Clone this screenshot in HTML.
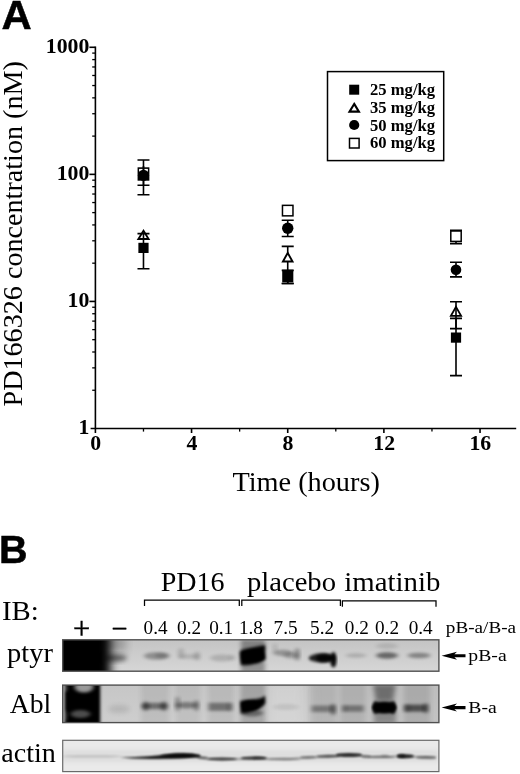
<!DOCTYPE html>
<html><head><meta charset="utf-8"><title>Figure</title>
<style>
html,body{margin:0;padding:0;background:#fff;}
body{width:520px;height:774px;overflow:hidden;}
svg{display:block;}
.s{font-family:"Liberation Serif",serif;fill:#000;}
.b{font-family:"Liberation Serif",serif;font-weight:bold;fill:#000;}
.h{font-family:"Liberation Sans",sans-serif;font-weight:bold;fill:#000;}
</style></head><body>
<svg width="520" height="774" viewBox="0 0 520 774">
<rect width="520" height="774" fill="#fff"/>

<text class="h" transform="translate(1.4 29.2) scale(1.03 1)" font-size="40.6" stroke="#000" stroke-width="0.5">A</text>
<text class="h" transform="translate(-0.9 562.8) scale(1.03 1)" font-size="38.4" stroke="#000" stroke-width="0.5">B</text>
<g stroke="#000" stroke-width="1.6" fill="none">
<path d="M95.4 46.5V428.5"/>
<path d="M90.6 428.5H516.2"/>
<path d="M92.2 390.25H95.4" stroke-width="1.3"/>
<path d="M92.2 367.87H95.4" stroke-width="1.3"/>
<path d="M92.2 352.00H95.4" stroke-width="1.3"/>
<path d="M92.2 339.68H95.4" stroke-width="1.3"/>
<path d="M92.2 329.62H95.4" stroke-width="1.3"/>
<path d="M92.2 321.11H95.4" stroke-width="1.3"/>
<path d="M92.2 313.74H95.4" stroke-width="1.3"/>
<path d="M92.2 307.24H95.4" stroke-width="1.3"/>
<path d="M89.4 301.43H95.4"/>
<path d="M92.2 263.18H95.4" stroke-width="1.3"/>
<path d="M92.2 240.80H95.4" stroke-width="1.3"/>
<path d="M92.2 224.93H95.4" stroke-width="1.3"/>
<path d="M92.2 212.61H95.4" stroke-width="1.3"/>
<path d="M92.2 202.55H95.4" stroke-width="1.3"/>
<path d="M92.2 194.04H95.4" stroke-width="1.3"/>
<path d="M92.2 186.67H95.4" stroke-width="1.3"/>
<path d="M92.2 180.17H95.4" stroke-width="1.3"/>
<path d="M89.4 174.36H95.4"/>
<path d="M92.2 136.11H95.4" stroke-width="1.3"/>
<path d="M92.2 113.73H95.4" stroke-width="1.3"/>
<path d="M92.2 97.86H95.4" stroke-width="1.3"/>
<path d="M92.2 85.54H95.4" stroke-width="1.3"/>
<path d="M92.2 75.48H95.4" stroke-width="1.3"/>
<path d="M92.2 66.97H95.4" stroke-width="1.3"/>
<path d="M92.2 59.60H95.4" stroke-width="1.3"/>
<path d="M92.2 53.10H95.4" stroke-width="1.3"/>
<path d="M89.4 47.29H95.4"/>
<path d="M95.40 428.5V433"/>
<path d="M143.48 428.5V431.6" stroke-width="1.3"/>
<path d="M191.56 428.5V433"/>
<path d="M239.64 428.5V431.6" stroke-width="1.3"/>
<path d="M287.72 428.5V433"/>
<path d="M335.80 428.5V431.6" stroke-width="1.3"/>
<path d="M383.88 428.5V433"/>
<path d="M431.96 428.5V431.6" stroke-width="1.3"/>
<path d="M480.04 428.5V433"/>
</g>
<text class="b" transform="translate(89.4 52.59) scale(1.09 1)" font-size="20" text-anchor="end">1000</text>
<text class="b" transform="translate(89.4 179.66) scale(1.09 1)" font-size="20" text-anchor="end">100</text>
<text class="b" transform="translate(89.4 306.73) scale(1.09 1)" font-size="20" text-anchor="end">10</text>
<text class="b" transform="translate(89.4 433.80) scale(1.09 1)" font-size="20" text-anchor="end">1</text>
<text class="b" transform="translate(95.70 450.1) scale(1.09 1)" font-size="20" text-anchor="middle">0</text>
<text class="b" transform="translate(191.86 450.1) scale(1.09 1)" font-size="20" text-anchor="middle">4</text>
<text class="b" transform="translate(288.02 450.1) scale(1.09 1)" font-size="20" text-anchor="middle">8</text>
<text class="b" transform="translate(384.18 450.1) scale(1.09 1)" font-size="20" text-anchor="middle">12</text>
<text class="b" transform="translate(480.34 450.1) scale(1.09 1)" font-size="20" text-anchor="middle">16</text>
<text class="s" transform="translate(306.1 490.8) scale(1.025 1)" font-size="27.6" text-anchor="middle">Time (hours)</text>
<text class="s" transform="translate(22.0 233.8) rotate(-90) scale(1.009 1)" font-size="27.9" text-anchor="middle">PD166326 concentration (nM)</text>
<rect x="327.5" y="71.6" width="116.2" height="89" fill="#fff" stroke="#000" stroke-width="1.5"/>
<rect x="349.20" y="84.70" width="10" height="10" fill="#000"/>
<path d="M354.20 103.90L358.90 111.60H349.50Z" fill="#fff" stroke="#000" stroke-width="2.1" stroke-linejoin="miter"/>
<circle cx="354.20" cy="125.00" r="5.1" fill="#000"/>
<rect x="349.50" y="138.40" width="9.6" height="9.6" fill="#fff" stroke="#000" stroke-width="1.5"/>
<text class="b" transform="translate(370 95.20) scale(1.02 1)" font-size="16.3">25 mg/kg</text>
<text class="b" transform="translate(370 112.95) scale(1.02 1)" font-size="16.3">35 mg/kg</text>
<text class="b" transform="translate(370 130.70) scale(1.02 1)" font-size="16.3">50 mg/kg</text>
<text class="b" transform="translate(370 148.45) scale(1.02 1)" font-size="16.3">60 mg/kg</text>
<rect x="137.58" y="167.30" width="11.80" height="13.40" fill="#000"/>
<rect x="139.08" y="168.90" width="8.80" height="4.30" fill="#fff"/>
<circle cx="143.48" cy="175.30" r="5.6" fill="#000"/>
<path d="M143.48 160.00V194.80M137.48 160.00H149.48M137.48 194.80H149.48" stroke="#000" stroke-width="1.6" fill="none"/>
<path d="M143.48 166.00V185.20M137.48 185.20H149.48" stroke="#000" stroke-width="1.6" fill="none"/>
<path d="M143.48 233.60V268.70M137.48 233.60H149.48M137.48 268.70H149.48" stroke="#000" stroke-width="1.6" fill="none"/>
<path d="M143.48 230.70L148.58 239.00H138.38Z" fill="none" stroke="#000" stroke-width="1.9" stroke-linejoin="miter"/>
<rect x="138.38" y="242.80" width="10.2" height="10.2" fill="#000"/>
<rect x="282.47" y="205.35" width="10.5" height="10.5" fill="#fff" stroke="#000" stroke-width="1.5"/>
<path d="M287.72 220.30V236.50M281.72 220.30H293.72M281.72 236.50H293.72" stroke="#000" stroke-width="1.6" fill="none"/>
<circle cx="287.72" cy="228.30" r="5.7" fill="#000"/>
<path d="M287.72 246.40V283.50M281.72 246.40H293.72M281.72 283.50H293.72" stroke="#000" stroke-width="1.6" fill="none"/>
<path d="M287.72 252.90L292.52 261.50H282.92Z" fill="#fff" stroke="#000" stroke-width="1.9" stroke-linejoin="miter"/>
<rect x="282.22" y="269.80" width="11.10" height="12.50" fill="#000"/>
<path d="M287.72 270.40V283.50M281.72 270.40H293.72M281.72 283.50H293.72" stroke="#000" stroke-width="1.6" fill="none"/>
<path d="M456.00 230.20V243.60M450.00 230.20H462.00M450.00 243.60H462.00" stroke="#000" stroke-width="1.6" fill="none"/>
<rect x="450.80" y="231.00" width="10.4" height="10.4" fill="#fff" stroke="#000" stroke-width="1.5"/>
<path d="M456.00 262.30V276.90M450.00 262.30H462.00M450.00 276.90H462.00" stroke="#000" stroke-width="1.6" fill="none"/>
<circle cx="456.00" cy="269.70" r="5.3" fill="#000"/>
<path d="M456.00 301.80V328.60M450.00 301.80H462.00M450.00 328.60H462.00" stroke="#000" stroke-width="1.6" fill="none"/>
<path d="M456.00 306.90L461.10 315.90H450.90Z" fill="none" stroke="#000" stroke-width="1.8" stroke-linejoin="miter"/>
<path d="M456.00 318.40V375.60M450.00 318.40H462.00M450.00 375.60H462.00" stroke="#000" stroke-width="1.6" fill="none"/>
<rect x="450.90" y="332.50" width="10.2" height="10.2" fill="#000"/>
<defs>
<filter id="f1" x="-20%" y="-50%" width="140%" height="200%"><feGaussianBlur stdDeviation="1.6"/></filter>
<filter id="f2" x="-20%" y="-50%" width="140%" height="200%"><feGaussianBlur stdDeviation="2.6"/></filter>
<filter id="f3" x="-20%" y="-80%" width="140%" height="260%"><feGaussianBlur stdDeviation="1.0"/></filter>
<filter id="f5" x="-30%" y="-30%" width="160%" height="160%"><feGaussianBlur stdDeviation="5 0.01"/></filter>
<filter id="f6" x="-40%" y="-100%" width="180%" height="300%"><feGaussianBlur stdDeviation="2.0 1.7"/></filter>
<filter id="f4" x="-30%" y="-50%" width="160%" height="200%"><feGaussianBlur stdDeviation="4"/></filter>
<clipPath id="c1"><rect x="62.7" y="639.8" width="376.2" height="31.4"/></clipPath>
<clipPath id="c2"><rect x="62.7" y="685.1" width="376.2" height="37.5"/></clipPath>
<clipPath id="c3"><rect x="62.7" y="740.3" width="376.2" height="31.3"/></clipPath>
<linearGradient id="g1" x1="0" y1="0" x2="0" y2="1"><stop offset="0" stop-color="#c4c4c4"/><stop offset="1" stop-color="#d6d6d6"/></linearGradient>
<linearGradient id="g2" x1="0" y1="0" x2="0" y2="1"><stop offset="0" stop-color="#c6c6c6"/><stop offset="1" stop-color="#cecece"/></linearGradient>
</defs>
<g clip-path="url(#c1)">
<rect x="62.7" y="639.8" width="376.2" height="31.4" fill="url(#g1)"/>
<rect x="104" y="636" width="22" height="16" fill="#000" opacity="0.22" filter="url(#f4)"/>
<rect x="30" y="630" width="80.5" height="50" fill="#000" opacity="1" filter="url(#f5)"/>
<ellipse cx="115" cy="658" rx="12" ry="3.4" fill="#000" opacity="0.55" filter="url(#f2)"/>
<ellipse cx="156.5" cy="656" rx="12.5" ry="3.8" fill="#000" opacity="0.3" filter="url(#f6)"/>
<ellipse cx="162" cy="655.5" rx="7" ry="2.8" fill="#000" opacity="0.17" filter="url(#f6)"/>
<ellipse cx="181" cy="653.5" rx="3" ry="5.5" fill="#000" opacity="0.16" filter="url(#f6)"/>
<ellipse cx="189" cy="656.5" rx="10" ry="2.6" fill="#000" opacity="0.13" filter="url(#f6)"/>
<ellipse cx="197" cy="656" rx="3" ry="4.5" fill="#000" opacity="0.18" filter="url(#f6)"/>
<ellipse cx="222" cy="658" rx="12" ry="3.4" fill="#000" opacity="0.15" filter="url(#f6)"/>
<ellipse cx="232" cy="657.5" rx="3" ry="3" fill="#000" opacity="0.08" filter="url(#f6)"/>
<rect x="241" y="640" width="24" height="10" fill="#000" opacity="0.34" filter="url(#f6)"/>
<rect x="241" y="662" width="24" height="10" fill="#000" opacity="0.32" filter="url(#f6)"/>
<path d="M239.6 652 Q240 650 244 649 L265 645 L265.8 659.5 Q262 662.5 254 664 Q246 666 241 665 Q239.4 660 239.6 652Z" fill="#000" filter="url(#f1)"/>
<ellipse cx="253" cy="656" rx="10.5" ry="6" fill="#000" opacity="1" filter="url(#f1)"/>
<ellipse cx="275" cy="648" rx="1.8" ry="4.5" fill="#000" opacity="0.14" filter="url(#f6)"/>
<ellipse cx="283" cy="652.8" rx="10" ry="3" fill="#000" opacity="0.28" filter="url(#f6)"/>
<ellipse cx="291" cy="655.5" rx="7.5" ry="3" fill="#000" opacity="0.24" filter="url(#f6)"/>
<ellipse cx="297.2" cy="654.4" rx="2.4" ry="6.4" fill="#000" opacity="0.38" filter="url(#f6)"/>
<ellipse cx="321.2" cy="658" rx="12.5" ry="4.4" fill="#000" opacity="0.85" filter="url(#f1)"/>
<ellipse cx="325.2" cy="658" rx="9" ry="4.2" fill="#000" opacity="0.8" filter="url(#f1)"/>
<ellipse cx="333.4" cy="659.8" rx="3.2" ry="7.8" fill="#000" opacity="0.95" filter="url(#f1)"/>
<ellipse cx="356" cy="655.5" rx="10.5" ry="2.2" fill="#000" opacity="0.16" filter="url(#f6)"/>
<ellipse cx="387" cy="646" rx="11" ry="3" fill="#000" opacity="0.1" filter="url(#f6)"/>
<ellipse cx="387" cy="655.5" rx="11" ry="3.2" fill="#000" opacity="0.5" filter="url(#f6)"/>
<ellipse cx="419" cy="655.5" rx="11.5" ry="2.8" fill="#000" opacity="0.36" filter="url(#f6)"/>
</g>
<rect x="62.7" y="639.8" width="376.2" height="31.4" fill="none" stroke="#505050" stroke-width="1.4"/>
<g clip-path="url(#c2)">
<rect x="62.7" y="685.1" width="376.2" height="37.5" fill="url(#g2)"/>
<rect x="268" y="680" width="36" height="50" fill="#e2e2e2" opacity="0.35" filter="url(#f4)"/>
<rect x="312" y="680" width="130" height="50" fill="#a8a8a8" opacity="0.3" filter="url(#f4)"/>
<rect x="64.6" y="676" width="35.6" height="56" fill="#000" opacity="1" filter="url(#f1)"/>
<ellipse cx="84" cy="687" rx="9.5" ry="5.5" fill="#b4b4b4" opacity="0.85" filter="url(#f6)"/>
<ellipse cx="80.5" cy="714" rx="10" ry="4" fill="#999" opacity="0.5" filter="url(#f6)"/>
<ellipse cx="64" cy="688" rx="3" ry="4" fill="#aaa" opacity="0.5" filter="url(#f6)"/>
<ellipse cx="64" cy="716" rx="2.5" ry="6" fill="#aaa" opacity="0.4" filter="url(#f6)"/>
<rect x="62" y="684" width="1.6" height="40" fill="#999" opacity="0.5" filter="url(#f3)"/>
<ellipse cx="119" cy="709" rx="11" ry="4" fill="#000" opacity="0.1" filter="url(#f2)"/>
<rect x="141.0" y="680" width="28" height="50" fill="#000" opacity="0.07" filter="url(#f2)"/>
<rect x="176.0" y="680" width="24" height="50" fill="#000" opacity="0.06" filter="url(#f2)"/>
<rect x="208.0" y="680" width="26" height="50" fill="#000" opacity="0.07" filter="url(#f2)"/>
<rect x="240.5" y="680" width="25" height="50" fill="#000" opacity="0.18" filter="url(#f2)"/>
<rect x="310.0" y="680" width="26" height="50" fill="#000" opacity="0.06" filter="url(#f2)"/>
<rect x="340.5" y="680" width="25" height="50" fill="#000" opacity="0.08" filter="url(#f2)"/>
<rect x="404.0" y="680" width="26" height="50" fill="#000" opacity="0.1" filter="url(#f2)"/>
<ellipse cx="154.5" cy="706" rx="12.5" ry="3.2" fill="#000" opacity="0.42" filter="url(#f6)"/>
<ellipse cx="145.5" cy="706.2" rx="3.6" ry="4.6" fill="#000" opacity="0.5" filter="url(#f6)"/>
<ellipse cx="164" cy="706.2" rx="3.6" ry="4.6" fill="#000" opacity="0.5" filter="url(#f6)"/>
<ellipse cx="177.5" cy="704" rx="2.2" ry="7.5" fill="#000" opacity="0.36" filter="url(#f6)"/>
<ellipse cx="186.5" cy="705.2" rx="11" ry="3.2" fill="#000" opacity="0.36" filter="url(#f6)"/>
<ellipse cx="196.3" cy="705.5" rx="2.4" ry="5.5" fill="#000" opacity="0.4" filter="url(#f6)"/>
<rect x="208.5" y="702.8" width="23" height="8" fill="#000" opacity="0.4" filter="url(#f6)"/>
<ellipse cx="230" cy="707" rx="2.6" ry="4" fill="#000" opacity="0.2" filter="url(#f6)"/>
<path d="M240.2 701 Q245 699.6 252 699.4 Q259 699 262.5 697.4 L265 695.6 L265.4 703 Q263 707.5 255 710.5 Q247 713.4 241 713.2 Q239.8 707 240.2 701Z" fill="#000" filter="url(#f1)"/>
<ellipse cx="250.5" cy="705.5" rx="8.5" ry="4.6" fill="#000" opacity="1" filter="url(#f1)"/>
<ellipse cx="252" cy="713" rx="11" ry="3.5" fill="#000" opacity="0.4" filter="url(#f6)"/>
<ellipse cx="286" cy="707" rx="13" ry="3" fill="#000" opacity="0.08" filter="url(#f6)"/>
<rect x="311.5" y="705.5" width="23" height="6.6" fill="#000" opacity="0.34" filter="url(#f6)"/>
<ellipse cx="333.2" cy="709.5" rx="2.6" ry="6" fill="#000" opacity="0.42" filter="url(#f6)"/>
<rect x="342.5" y="705.3" width="21" height="6.4" fill="#000" opacity="0.36" filter="url(#f6)"/>
<ellipse cx="344.5" cy="708.5" rx="2.5" ry="3.6" fill="#000" opacity="0.12" filter="url(#f6)"/>
<path d="M373 684 H396 L393 702 H376Z" fill="#000" opacity="0.42" filter="url(#f2)"/>
<rect x="374" y="710" width="22" height="14" fill="#000" opacity="0.3" filter="url(#f2)"/>
<ellipse cx="384.3" cy="707.5" rx="12" ry="5.4" fill="#000" opacity="1" filter="url(#f1)"/>
<rect x="374.5" y="702.6" width="19.6" height="10" fill="#000" opacity="0.92" filter="url(#f1)"/>
<ellipse cx="375.5" cy="707.5" rx="3" ry="6.5" fill="#000" opacity="0.8" filter="url(#f1)"/>
<ellipse cx="393" cy="707.5" rx="3" ry="6.5" fill="#000" opacity="0.8" filter="url(#f1)"/>
<rect x="404.5" y="704.6" width="22.5" height="7" fill="#000" opacity="0.55" filter="url(#f6)"/>
<ellipse cx="407" cy="708.2" rx="3" ry="4" fill="#000" opacity="0.2" filter="url(#f6)"/>
<ellipse cx="426" cy="708.2" rx="2.6" ry="5.5" fill="#000" opacity="0.35" filter="url(#f6)"/>
</g>
<rect x="62.7" y="685.1" width="376.2" height="37.5" fill="none" stroke="#505050" stroke-width="1.4"/>
<g clip-path="url(#c3)">
<rect x="62.7" y="740.3" width="376.2" height="31.3" fill="#eaeaea"/>
<rect x="62" y="750" width="377" height="12" fill="#000" opacity="0.05" filter="url(#f2)"/>
<ellipse cx="92" cy="756.4" rx="30" ry="1.2" fill="#000" opacity="0.14" filter="url(#f3)"/>
<path d="M120 757.6 Q150 757.2 175 753.6 Q190 752.8 199 754.6 Q203 756.8 198 757.6 Q175 759.4 150 759 Q130 759 120 757.6Z" fill="#000" opacity="0.9" filter="url(#f3)"/>
<ellipse cx="178" cy="755.6" rx="18" ry="2.0" fill="#000" opacity="0.6" filter="url(#f3)"/>
<path d="M196 756.5 L206 758.6 L222 759.2 L240 758.8 L256 758 L268 758.8 L290 759.2 L304 758 L320 757 L340 755.4 L360 755.6 L370 757 L392 756.8 L400 756.2 L418 757 L436 757.6" fill="none" stroke="#000" stroke-width="2.2" opacity="0.3" filter="url(#f3)"/>
<ellipse cx="203" cy="757.8" rx="5" ry="1.3" fill="#000" opacity="0.4" filter="url(#f3)"/>
<ellipse cx="222" cy="759" rx="15" ry="1.4" fill="#000" opacity="0.62" filter="url(#f3)"/>
<ellipse cx="254" cy="758.2" rx="13" ry="1.6" fill="#000" opacity="0.7" filter="url(#f3)"/>
<ellipse cx="259" cy="757.8" rx="6" ry="1.5" fill="#000" opacity="0.3" filter="url(#f3)"/>
<ellipse cx="284" cy="759" rx="16" ry="1.2" fill="#000" opacity="0.2" filter="url(#f3)"/>
<ellipse cx="308" cy="757.2" rx="8" ry="1.2" fill="#000" opacity="0.35" filter="url(#f3)"/>
<ellipse cx="328" cy="756.2" rx="12" ry="1.5" fill="#000" opacity="0.5" filter="url(#f3)"/>
<ellipse cx="349" cy="754.9" rx="13" ry="1.9" fill="#000" opacity="0.78" filter="url(#f3)"/>
<ellipse cx="366" cy="756.6" rx="5" ry="1.3" fill="#000" opacity="0.35" filter="url(#f3)"/>
<ellipse cx="381" cy="756.8" rx="13" ry="1.2" fill="#000" opacity="0.28" filter="url(#f3)"/>
<ellipse cx="385" cy="755.6" rx="4" ry="1.2" fill="#000" opacity="0.2" filter="url(#f3)"/>
<ellipse cx="405.5" cy="756.2" rx="8.5" ry="2.0" fill="#000" opacity="0.8" filter="url(#f3)"/>
<ellipse cx="401" cy="756" rx="4" ry="2.2" fill="#000" opacity="0.5" filter="url(#f3)"/>
<ellipse cx="426" cy="757.4" rx="10" ry="1.4" fill="#000" opacity="0.4" filter="url(#f3)"/>
</g>
<rect x="62.7" y="740.3" width="376.2" height="31.3" fill="none" stroke="#6a6a6a" stroke-width="1.2"/>
<text class="s" transform="translate(1.9 619.8) scale(1.04 1)" font-size="27.7">IB:</text>
<text class="s" transform="translate(7.1 661.7) scale(1.02 1)" font-size="27.9">ptyr</text>
<text class="s" x="9.7" y="712.7" font-size="27.7">Abl</text>
<text class="s" transform="translate(1.3 762.3) scale(1.015 1)" font-size="27.7">actin</text>
<text class="s" transform="translate(192.6 591.2) scale(1.015 1)" font-size="27.6" text-anchor="middle">PD16</text>
<text class="s" transform="translate(291.5 591.2) scale(1.034 1)" font-size="27.7" text-anchor="middle">placebo</text>
<text class="s" transform="translate(392.4 591.2) scale(1.041 1)" font-size="27.7" text-anchor="middle">imatinib</text>
<path d="M144.5 606V600.1H239.3V606" fill="none" stroke="#000" stroke-width="1.25"/>
<path d="M241.8 606V600.1H340.4V606" fill="none" stroke="#000" stroke-width="1.25"/>
<path d="M342.4 606.8V600.9H436V606.8" fill="none" stroke="#000" stroke-width="1.25"/>
<text class="s" x="155.6" y="633.5" font-size="19.2" text-anchor="middle">0.4</text>
<text class="s" x="189.1" y="633.5" font-size="19.2" text-anchor="middle">0.2</text>
<text class="s" x="221.2" y="633.5" font-size="19.2" text-anchor="middle">0.1</text>
<text class="s" x="250.9" y="633.5" font-size="19.2" text-anchor="middle">1.8</text>
<text class="s" x="285.6" y="633.5" font-size="19.2" text-anchor="middle">7.5</text>
<text class="s" x="322.1" y="633.5" font-size="19.2" text-anchor="middle">5.2</text>
<text class="s" x="356.8" y="633.5" font-size="19.2" text-anchor="middle">0.2</text>
<text class="s" x="387.0" y="633.5" font-size="19.2" text-anchor="middle">0.2</text>
<text class="s" x="420.7" y="633.5" font-size="19.2" text-anchor="middle">0.4</text>
<text class="s" x="81.5" y="638.5" font-size="30.5" text-anchor="middle" stroke="#000" stroke-width="0.4">+</text>
<text class="s" x="119.3" y="637.6" font-size="28.5" text-anchor="middle" stroke="#000" stroke-width="0.4">−</text>
<text class="s" transform="translate(445.8 632.8) scale(1.09 1)" font-size="17.6">pB-a/B-a</text>
<path d="M441.6 655.7L457 651.7L454.4 654.1500000000001H465.5V657.25H454.4L457 659.7Z" fill="#000"/>
<text class="s" transform="translate(468.3 661.2) scale(1.155 1)" font-size="17.1">pB-a</text>
<path d="M441.6 707.6L457 703.6L454.4 706.0500000000001H465.5V709.15H454.4L457 711.6Z" fill="#000"/>
<text class="s" transform="translate(468.3 713.3) scale(1.155 1)" font-size="17.1">B-a</text>
</svg></body></html>
